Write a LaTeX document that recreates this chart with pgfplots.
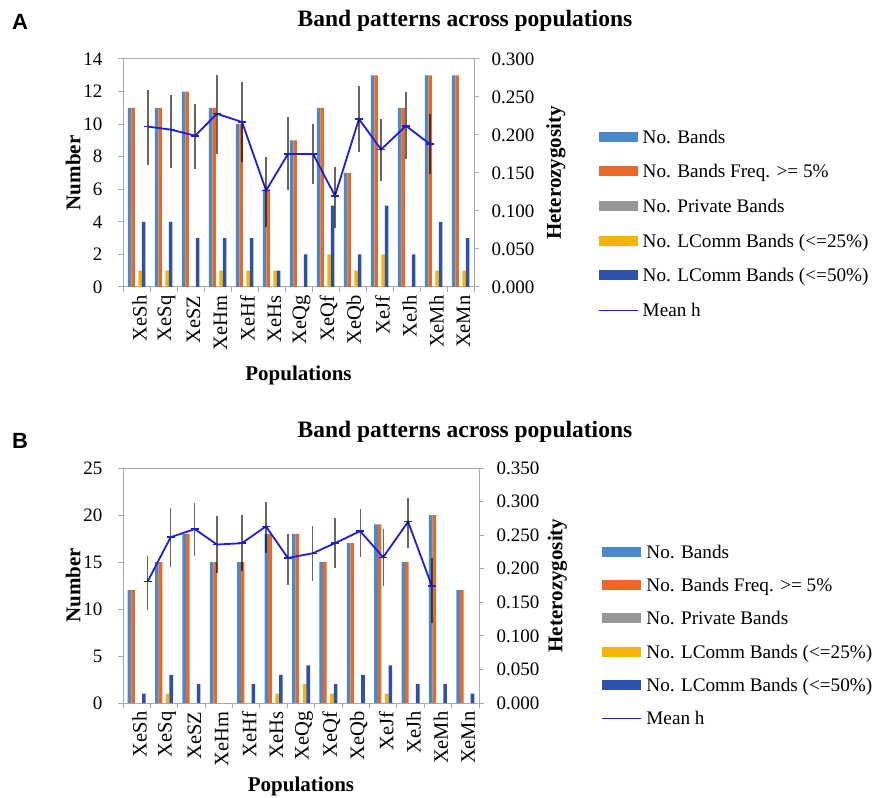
\documentclass[border=0pt]{standalone}
\usepackage{fontspec}
\setmainfont{LiberationSerif}[Extension=.ttf, UprightFont=*-Regular, BoldFont=*-Bold, ItalicFont=*-Italic, BoldItalicFont=*-BoldItalic]
\newfontfamily\labfont{Liberation Sans}
\usepackage{pgfplots}
\pgfplotsset{compat=1.18}
\definecolor{cBlue}{RGB}{74,138,203}
\definecolor{cOrange}{RGB}{230,105,40}
\definecolor{cGray}{RGB}{150,150,150}
\definecolor{cYellow}{RGB}{245,180,10}
\definecolor{cDark}{RGB}{45,80,170}
\definecolor{cLine}{RGB}{30,30,225}
\definecolor{axgray}{RGB}{170,170,170}
\pgfplotsset{
  barleg/.style={legend image code/.code={\fill[##1, draw=none] (0pt,-5pt) rectangle (39pt,5pt);}},
  lineleg/.style={legend image code/.code={\draw[##1] (0pt,0pt) -- (39pt,0pt); \draw[##1] (17pt,0pt) -- (22pt,0pt);}},
  common/.style={scale only axis, xmin=-0.5, xmax=12.5,
    axis line style={axgray, line width=1pt},
    every tick/.style={axgray, line width=1pt},
    tick align=outside, major tick length=5pt, minor tick length=5pt,
    tick label style={font=\rmfamily\mdseries\fontsize{19}{19}\selectfont},
    /pgf/number format/assume math mode=true,
    label style={font=\bfseries\fontsize{21}{21}\selectfont}},
  prim/.style={common,
    xtick={0,...,12},
    xticklabels={XeSh,XeSq,XeSZ,XeHm,XeHf,XeHs,XeQg,XeQf,XeQb,XeJf,XeJh,XeMh,XeMn},
    major x tick style={draw=none},
    minor xtick={-0.5,0.5,...,12.5},
    xtick pos=lower, ytick pos=left,
    xticklabel style={rotate=90, anchor=east, yshift=-3pt, font=\rmfamily\mdseries\fontsize{20.5}{20.5}\selectfont},
    yticklabel style={xshift=-12pt},
    ylabel=Number, xlabel=Populations},
  sec/.style={common, axis x line=none, axis y line*=right,
    scaled y ticks=false,
    yticklabel style={xshift=9pt, /pgf/number format/.cd, fixed, fixed zerofill, precision=3},
    ylabel=Heterozygosity,
    legend cell align=left},
  lineplot/.style={cLine, line width=1.8pt, mark=-, mark size=4pt,
    mark options={line width=1.5pt},
    error bars/y dir=both, error bars/y explicit, error bars/error mark=none,
    error bars/error bar style={black, draw opacity=0.6, line width=1.3pt}},
}
\begin{document}
\begin{tikzpicture}
\useasboundingbox (0pt,0pt) rectangle (877pt,797pt);
% ---------------- Panel A ----------------
\begin{axis}[prim, at={(123pt,510pt)}, anchor=south west, width=351pt, height=228pt,
  ymin=0, ymax=14, ytick={0,2,...,14},
  ylabel style={at={(axis description cs:-0.142,0.5)}, anchor=center},
  xlabel style={at={(axis description cs:0.5,-0.390)}, anchor=center}]
\addplot[ybar, bar width=3.5pt, bar shift=-7pt, fill=cBlue, draw=none] coordinates
 {(0,11)(1,11)(2,12)(3,11)(4,10)(5,6)(6,9)(7,11)(8,7)(9,13)(10,11)(11,13)(12,13)};
\addplot[ybar, bar width=3.5pt, bar shift=-3.5pt, fill=cOrange, draw=none] coordinates
 {(0,11)(1,11)(2,12)(3,11)(4,10)(5,6)(6,9)(7,11)(8,7)(9,13)(10,11)(11,13)(12,13)};
\addplot[ybar, bar width=3.5pt, bar shift=0pt, fill=cGray, draw=none] coordinates
 {(0,0)(1,0)(2,0)(3,0)(4,0)(5,0)(6,0)(7,0)(8,0)(9,0)(10,0)(11,0)(12,0)};
\addplot[ybar, bar width=3.5pt, bar shift=3.5pt, fill=cYellow, draw=none] coordinates
 {(0,1)(1,1)(2,0)(3,1)(4,1)(5,1)(6,0)(7,2)(8,1)(9,2)(10,0)(11,1)(12,1)};
\addplot[ybar, bar width=3.5pt, bar shift=7pt, fill=cDark, draw=none] coordinates
 {(0,4)(1,4)(2,3)(3,3)(4,3)(5,1)(6,2)(7,5)(8,2)(9,5)(10,2)(11,4)(12,3)};
\end{axis}
\begin{axis}[sec, at={(123pt,510pt)}, anchor=south west, width=351pt, height=228pt,
  ymin=0, ymax=0.3, ytick={0,0.05,0.1,0.15,0.2,0.25,0.3},
  ylabel style={at={(axis description cs:1.2336,0.5)}, anchor=center},
  legend style={at={(axis description cs:1.3533,0.7053)}, anchor=north west,
    draw=none, fill=none, inner sep=0pt, outer sep=0pt,
    /tikz/row sep=13.7pt, /tikz/column sep=4.7pt,
    font=\rmfamily\mdseries\fontsize{19.2}{19.2}\selectfont,
    nodes={inner sep=0pt, text height=17pt, text depth=4pt}}]
\addlegendimage{barleg, fill=cBlue}\addlegendentry{No. Bands}
\addlegendimage{barleg, fill=cOrange}\addlegendentry{No. Bands Freq. >= 5\%}
\addlegendimage{barleg, fill=cGray}\addlegendentry{No. Private Bands}
\addlegendimage{barleg, fill=cYellow}\addlegendentry{No. LComm Bands (<=25\%)}
\addlegendimage{barleg, fill=cDark}\addlegendentry{No. LComm Bands (<=50\%)}
\addlegendimage{lineleg, cLine, line width=1pt}\addlegendentry{Mean h}
\addplot[forget plot, lineplot] table[x=x, y=y, y error plus=ep, y error minus=em, row sep=\\] {
x y ep em\\
0.43 0.211 0.048 0.050\\
1.28 0.207 0.046 0.051\\
2.17 0.199 0.042 0.044\\
2.98 0.228 0.051 0.053\\
3.91 0.217 0.053 0.053\\
4.80 0.127 0.044 0.048\\
5.61 0.175 0.049 0.048\\
6.54 0.175 0.040 0.039\\
7.35 0.120 0.038 0.043\\
8.24 0.221 0.043 0.044\\
9.06 0.181 0.040 0.041\\
9.98 0.212 0.045 0.044\\
10.87 0.188 0.040 0.039\\
};
\end{axis}
% ---------------- Panel B ----------------
\begin{axis}[prim, at={(123pt,94pt)}, anchor=south west, width=356pt, height=235pt,
  ymin=0, ymax=25, ytick={0,5,...,25},
  ylabel style={at={(axis description cs:-0.140,0.5)}, anchor=center},
  xlabel style={at={(axis description cs:0.5,-0.355)}, anchor=center}]
\addplot[ybar, bar width=3.6pt, bar shift=-7.2pt, fill=cBlue, draw=none] coordinates
 {(0,12)(1,15)(2,18)(3,15)(4,15)(5,18)(6,18)(7,15)(8,17)(9,19)(10,15)(11,20)(12,12)};
\addplot[ybar, bar width=3.6pt, bar shift=-3.6pt, fill=cOrange, draw=none] coordinates
 {(0,12)(1,15)(2,18)(3,15)(4,15)(5,18)(6,18)(7,15)(8,17)(9,19)(10,15)(11,20)(12,12)};
\addplot[ybar, bar width=3.6pt, bar shift=0pt, fill=cGray, draw=none] coordinates
 {(0,0)(1,0)(2,0)(3,0)(4,0)(5,0)(6,0)(7,0)(8,0)(9,0)(10,0)(11,0)(12,0)};
\addplot[ybar, bar width=3.6pt, bar shift=3.6pt, fill=cYellow, draw=none] coordinates
 {(0,0)(1,1)(2,0)(3,0)(4,0)(5,1)(6,2)(7,1)(8,0)(9,1)(10,0)(11,0)(12,0)};
\addplot[ybar, bar width=3.6pt, bar shift=7.2pt, fill=cDark, draw=none] coordinates
 {(0,1)(1,3)(2,2)(3,0)(4,2)(5,3)(6,4)(7,2)(8,3)(9,4)(10,2)(11,2)(12,1)};
\end{axis}
\begin{axis}[sec, at={(123pt,94pt)}, anchor=south west, width=356pt, height=235pt,
  ymin=0, ymax=0.35, ytick={0,0.05,0.1,0.15,0.2,0.25,0.3,0.35},
  ylabel style={at={(axis description cs:1.2205,0.5)}, anchor=center},
  legend style={at={(axis description cs:1.3447,0.6885)}, anchor=north west,
    draw=none, fill=none, inner sep=0pt, outer sep=0pt,
    /tikz/row sep=12.3pt, /tikz/column sep=4.7pt,
    font=\rmfamily\mdseries\fontsize{19.2}{19.2}\selectfont,
    nodes={inner sep=0pt, text height=17pt, text depth=4pt}}]
\addlegendimage{barleg, fill=cBlue}\addlegendentry{No. Bands}
\addlegendimage{barleg, fill=cOrange}\addlegendentry{No. Bands Freq. >= 5\%}
\addlegendimage{barleg, fill=cGray}\addlegendentry{No. Private Bands}
\addlegendimage{barleg, fill=cYellow}\addlegendentry{No. LComm Bands (<=25\%)}
\addlegendimage{barleg, fill=cDark}\addlegendentry{No. LComm Bands (<=50\%)}
\addlegendimage{lineleg, cLine, line width=1pt}\addlegendentry{Mean h}
\addplot[forget plot, lineplot] table[x=x, y=y, y error plus=ep, y error minus=em, row sep=\\] {
x y ep em\\
0.40 0.181 0.038 0.043\\
1.24 0.247 0.043 0.044\\
2.12 0.259 0.039 0.040\\
2.93 0.236 0.042 0.043\\
3.84 0.238 0.042 0.042\\
4.72 0.263 0.037 0.040\\
5.52 0.216 0.035 0.040\\
6.43 0.223 0.041 0.042\\
7.24 0.238 0.038 0.037\\
8.16 0.256 0.033 0.039\\
9.00 0.217 0.042 0.043\\
9.91 0.270 0.035 0.039\\
10.78 0.174 0.042 0.055\\
};
\end{axis}
\node[font=\bfseries\fontsize{23.5}{23.5}\selectfont] at (465pt,776pt) {Band patterns across populations};
\node[font=\bfseries\fontsize{23.5}{23.5}\selectfont] at (465pt,365pt) {Band patterns across populations};
\node[font=\labfont\bfseries\fontsize{22}{22}\selectfont] at (20pt,775pt) {A};
\node[font=\labfont\bfseries\fontsize{22}{22}\selectfont] at (20pt,356pt) {B};
\end{tikzpicture}
\end{document}
